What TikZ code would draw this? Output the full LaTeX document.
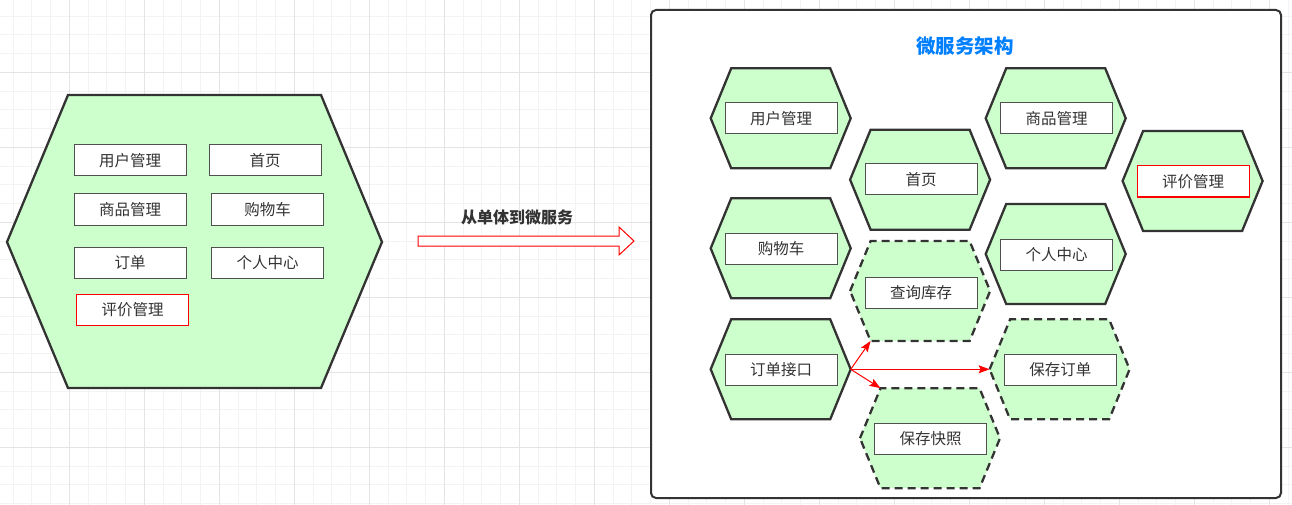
\documentclass[tikz,border=0pt]{standalone}
\usepackage{fontspec}
\setmainfont{Noto Sans CJK SC}
\usetikzlibrary{arrows.meta}

\definecolor{cellgreen}{RGB}{204,255,204}
\definecolor{edgegrey}{RGB}{51,51,51}
\definecolor{boxgrey}{RGB}{80,80,80}
\definecolor{textgrey}{RGB}{51,51,51}
\definecolor{titleblue}{RGB}{0,127,255}
\definecolor{alertred}{RGB}{255,0,0}
\definecolor{gridminor}{RGB}{243,243,243}
\definecolor{gridmajor}{RGB}{228,228,228}

\tikzset{
  hexline/.style={draw=edgegrey, fill=cellgreen, line width=2.3pt, line join=miter},
  dashcell/.style={dash pattern=on 8pt off 5pt},
  lbl/.style={draw=boxgrey, fill=white, line width=1pt, minimum width=112pt,
              minimum height=31pt, inner sep=0pt, text=textgrey,
              font=\fontsize{15.5}{18}\selectfont},
  redlbl/.style={lbl, draw=alertred},
  redarrow/.style={draw=alertred, line width=1pt,
                   -{Stealth[length=11pt, width=8pt, inset=2pt]}},
  % one microservice cell, 140 x 100
  pics/cell/.style={code={
    \draw[hexline] (-70,0) coordinate (-l) -- (-49.5,-50) coordinate (-tl)
      -- (49.5,-50) coordinate (-tr) -- (70,0) coordinate (-r)
      -- (49.5,50) coordinate (-br) -- (-49.5,50) coordinate (-bl) -- cycle;
  }}
}

\begin{document}
\begin{tikzpicture}[x=1pt, y=-1pt]
    \useasboundingbox (0,0) rectangle (1292,505);

    % background grid
    \foreach \k in {0,...,68}
        \draw[gridminor, line width=1pt] ({13.2+18.75*\k},0) -- ++(0,505);
    \foreach \k in {1,...,27}
        \draw[gridminor, line width=1pt] (0,{-2.7+18.75*\k}) -- ++(1292,0);
    \foreach \k in {0,...,16}
        \draw[gridmajor, line width=1pt] ({69.45+75*\k},0) -- ++(0,505);
    \foreach \k in {0,...,5}
        \draw[gridmajor, line width=1pt] (0,{72.3+75*\k}) -- ++(1292,0);

    % monolith
    \draw[hexline] (68,95) -- (321,95) -- (382,242) -- (321,388) -- (68,388) -- (7,242) -- cycle;
    \node[lbl] (mUser)   at (130,160.5)   {用户管理};
    \node[lbl] (mHome)   at (265,160.5)   {首页};
    \node[lbl] (mGoods)  at (130,209.5)   {商品管理};
    \node[lbl] (mCart)   at (267.5,209.5) {购物车};
    \node[lbl] (mOrder)  at (130,263)     {订单};
    \node[lbl] (mMine)   at (267.5,263)   {个人中心};
    \node[redlbl] (mReview) at (132.5,309.5) {评价管理};

    % split arrow
    \draw[draw=alertred, fill=white, line width=1pt, line join=miter]
        (418,236) -- (619,236) -- (619,227) -- (634,241) -- (619,255) -- (619,246) -- (418,246) -- cycle;
    \node[text=textgrey, font=\bfseries\fontsize{16}{18}\selectfont] (split) at (517,217) {从单体到微服务};

    % microservices
    \draw[draw=edgegrey, fill=white, line width=2pt, rounded corners=5pt] (651,10) rectangle (1281,498);
    \node[text=titleblue, font=\bfseries\fontsize{19.5}{22}\selectfont] (title) at (965,46) {微服务架构};

    \pic (sUser)   at (780.7,118.3)  {cell};
    \pic (sHome)   at (920.1,179.7)  {cell};
    \pic (sGoods)  at (1055.7,118.3) {cell};
    \pic (sReview) at (1192.6,181)   {cell};
    \pic (sCart)   at (780.7,248.3)  {cell};
    \pic (sMine)   at (1055.7,254)   {cell};
    \pic[dashcell] (sStock) at (920.1,291)   {cell};
    \pic (sOrder)  at (780.7,369.3)  {cell};
    \pic[dashcell] (sSave) at (1059.6,369.3) {cell};
    \pic[dashcell] (sSnap) at (930,438.2)    {cell};

    \node[lbl] (bUser)  at (781,118.5)    {用户管理};
    \node[lbl] (bHome)  at (921,179.5)    {首页};
    \node[lbl] (bGoods) at (1056.5,118.5) {商品管理};
    \node[redlbl] (bReview) at (1193,181.5) {评价管理};
    \node[lbl] (bCart)  at (781,249)      {购物车};
    \node[lbl] (bMine)  at (1056.5,254.6) {个人中心};
    \node[lbl] (bStock) at (921,292.5)    {查询库存};
    \node[lbl] (bOrder) at (781,369.7)    {订单接口};
    \node[lbl] (bSave)  at (1060.4,369.7) {保存订单};
    \node[lbl] (bSnap)  at (930.5,438.5)  {保存快照};

    \draw[redarrow] (sOrder-r) -- (sStock-bl);
    \draw[redarrow] (sOrder-r) -- (sSave-l);
    \draw[redarrow] (sOrder-r) -- (sSnap-tl);

\end{tikzpicture}
\end{document}
